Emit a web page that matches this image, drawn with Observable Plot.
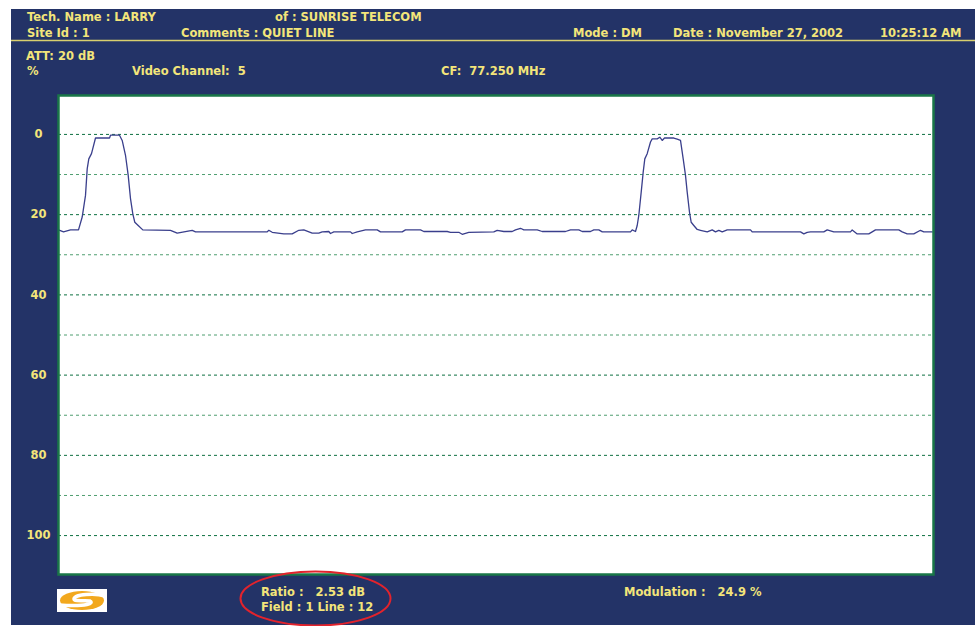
<!DOCTYPE html>
<html>
<head>
<meta charset="utf-8">
<script src="https://cdn.jsdelivr.net/npm/d3@7"></script>
<script src="https://cdn.jsdelivr.net/npm/@observablehq/plot@0.6"></script>
<style>
  html, body { margin: 0; padding: 0; background: #ffffff; }
  #chart svg { display: block; }
</style>
</head>
<body>
<div id="chart"></div>
<script>
// ---- data (sample position along sweep, level in %) ----
const traceX = [0,5,12,20,23.7,27,28.7,30.3,33,37,51,52,61,63.7,67,69.7,72,74.3,76.3,79.7,84.3,112,118.7,133.7,137,208.7,210.3,213.7,225.3,233.7,240.3,245.3,253.7,260.3,263.7,270.3,272,275.3,292,293.7,298.7,307,318.7,322,343.7,347,362,365.3,388.7,392,400.3,403.7,410.3,435.3,438.7,445.3,453.7,457,462,465.3,478.7,483.7,507,512,520.3,523.7,532,535.3,540.3,543.7,572,573.7,577,578.7,580.3,582.7,584.7,586.3,588.7,592,593.7,598.7,601.3,603.7,606,615.3,618.7,622,624.7,627,628.7,631,632.7,635.3,638.7,642,648.7,653.7,657,660.3,663.7,668.7,692,693.7,742,745.3,748.7,752,765.3,768.7,775.3,792,793.7,798.7,810.3,813.7,817,840.3,843.7,848.7,855.3,862,865.3,873.7];
const traceY = [23.8,24.3,23.8,23.8,20.6,15.2,8.6,6.1,4.8,0.9,0.9,0.2,0.2,1.5,5.2,10.2,16.0,19.8,21.9,22.7,23.8,23.9,24.6,23.9,24.3,24.3,23.9,24.4,24.8,24.8,23.9,23.8,24.6,24.6,24.3,24.2,24.7,24.3,24.3,24.7,24.3,23.8,23.8,24.3,24.3,23.8,23.8,24.2,24.2,24.4,24.4,24.9,24.4,24.3,23.9,24.2,24.2,23.8,23.4,23.8,23.8,24.2,24.2,23.8,23.8,24.2,24.2,23.8,23.8,24.3,24.3,23.8,24.2,22.7,20.2,14.4,9.4,6.1,4.8,1.9,1.1,1.1,0.7,1.5,0.9,0.9,1.2,1.5,6.1,10.2,14.4,19.4,21.9,22.7,23.7,23.9,24.3,23.8,24.3,23.9,24.3,23.8,23.8,24.3,24.3,24.8,24.4,24.3,24.3,23.8,24.3,24.3,23.8,24.8,24.8,24.3,23.8,23.8,24.3,24.8,24.8,23.9,24.3,24.3];
const gridValues = [0,10,20,30,40,50,60,70,80,90,100];
const tickLabels = [0,20,40,60,80,100];
const headerTop = [["Tech. Name : LARRY", 27], ["of : SUNRISE TELECOM", 275]];
const headerBottom = [["Site Id : 1", 27], ["Comments : QUIET LINE", 181], ["Mode : DM", 573], ["Date : November 27, 2002", 673], ["10:25:12 AM", 880]];
const infoLine1 = [["ATT: 20 dB", 26]];
const infoLine2 = [["%", 27], ["Video Channel:  5", 132], ["CF:  77.250 MHz", 441]];
const footer1 = [["Ratio :   2.53 dB", 261], ["Modulation :   24.9 %", 624]];
const footer2 = [["Field : 1 Line : 12", 261]];

const NAVY = "#233367";
const YELLOW = "#f3e57a";
const FONT = "'DejaVu Sans', Verdana, sans-serif";

const trace = traceX.map((x, i) => ({x, y: traceY[i]}));

const chart = Plot.plot({
  width: 975,
  height: 626,
  marginLeft: 58,
  marginRight: 42,
  marginTop: 95,
  marginBottom: 52,
  style: {background: "transparent", fontFamily: FONT},
  x: {domain: [0, 875], axis: null},
  y: {domain: [-9.7, 109.7], reverse: true, axis: null},
  marks: [
    Plot.frame({fill: "#ffffff"}),
    Plot.ruleY(gridValues, {
      stroke: d => d % 20 === 0 ? "#0d7040" : "#4f9e70",
      strokeDasharray: "3,3",
      strokeWidth: 1
    }),
    Plot.line(trace, {x: "x", y: "y", stroke: "#3a3f8c", strokeWidth: 1.3}),
    Plot.frame({stroke: "#1a7748", strokeWidth: 2.5}),
    Plot.text(tickLabels, {
      y: d => d, text: d => String(d), frameAnchor: "left", dx: -20,
      textAnchor: "middle", fill: YELLOW, fontWeight: "bold", fontSize: 11.5
    })
  ]
});

const svg = d3.select(chart);
svg.insert("rect", ":first-child")
  .attr("x", 11).attr("y", 9).attr("width", 964).attr("height", 616)
  .attr("fill", NAVY);

function addTexts(list, y) {
  list.forEach(([t, x]) => {
    svg.append("text").attr("x", x).attr("y", y)
      .attr("fill", YELLOW).attr("font-family", FONT)
      .attr("font-size", 11.5).attr("font-weight", "bold")
      .attr("text-anchor", "start")
      .style("white-space", "pre")
      .attr("xml:space", "preserve")
      .text(t);
  });
}
addTexts(headerTop, 21);
addTexts(headerBottom, 37);
addTexts(infoLine1, 60);
addTexts(infoLine2, 75);
addTexts(footer1, 596);
addTexts(footer2, 611);

// separator under the header
svg.append("line").attr("x1", 11).attr("x2", 975).attr("y1", 40.5).attr("y2", 40.5)
  .attr("stroke", "#d8cf6e").attr("stroke-width", 1.5);

// logo
const logo = svg.append("g");
logo.append("rect").attr("x", 57).attr("y", 589).attr("width", 50).attr("height", 23).attr("fill", "#ffffff");
logo.append("ellipse").attr("cx", 82).attr("cy", 600.5).attr("rx", 22).attr("ry", 9.5).attr("fill", "#f2a81d");
logo.append("path")
  .attr("d", "M105,596 C96,593 74,594 74,599 C74,602 86,600 90,601 C94,603 88,607 59,605")
  .attr("fill", "none").attr("stroke", "#ffffff").attr("stroke-width", 3.5);

// red highlight ellipse
svg.append("ellipse").attr("cx", 315.5).attr("cy", 598.5).attr("rx", 75).attr("ry", 27)
  .attr("fill", "none").attr("stroke", "#e3232c").attr("stroke-width", 2);

document.getElementById("chart").appendChild(chart);
</script>
</body>
</html>
